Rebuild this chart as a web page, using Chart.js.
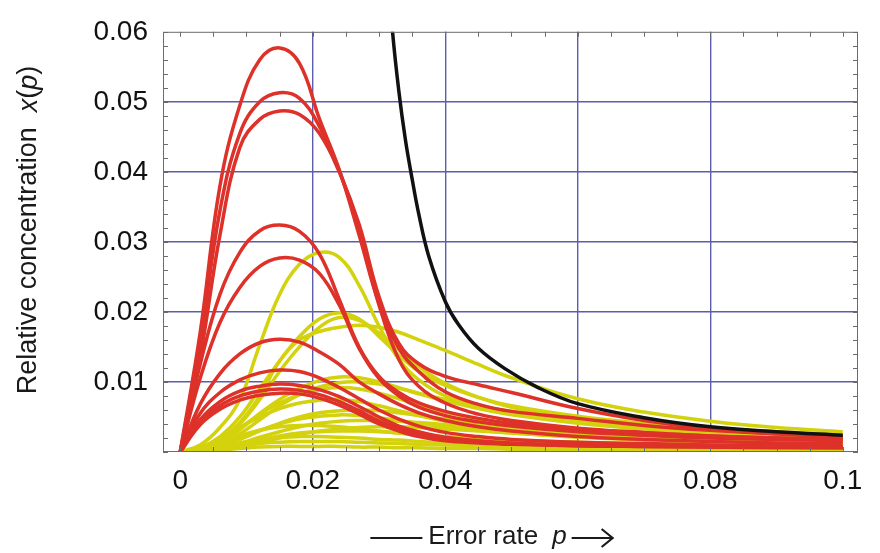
<!DOCTYPE html>
<html lang="en">
<head>
<meta charset="UTF-8">
<title>Relative concentration vs error rate</title>
<style>
  html, body { margin: 0; padding: 0; background: #fff; }
  #wrap { width: 880px; height: 553px; }
</style>
<script src="https://cdn.jsdelivr.net/npm/chart.js"></script>
</head>
<body>
<div id="wrap"><canvas id="grafico" width="880" height="553"></canvas></div>
<script>
// error rate p shared by the red and yellow curves
const P = [0, 0.003, 0.006, 0.009, 0.012, 0.015, 0.018, 0.021, 0.024, 0.027, 0.030,
           0.033, 0.036, 0.040, 0.045, 0.050, 0.060, 0.070, 0.080, 0.090, 0.100];

// red curves x(p)
const RED = [
  [0, .0170, .0380, .0495, .0560, .0577, .0555, .0476, .0403, .0310, .0212, .0148, .0115, .0086, .0068, .0058, .0048, .0038, .0031, .0026, .0022],
  [0, .0155, .0345, .0455, .0500, .0513, .0505, .0465, .0402, .0318, .0210, .0132, .0094, .0070, .0054, .0045, .0034, .0028, .0023, .0020, .0018],
  [0, .0135, .0310, .0435, .0475, .0487, .0482, .0455, .0400, .0325, .0222, .0155, .0126, .0108, .0096, .0085, .0062, .0045, .0033, .0026, .0021],
  [0, .0125, .0225, .0285, .0316, .0324, .0315, .0283, .0218, .0150, .0108, .0085, .0070, .0058, .0048, .0041, .0033, .0027, .0023, .0020, .0018],
  [0, .0105, .0185, .0235, .0265, .0277, .0274, .0255, .0210, .0148, .0105, .0080, .0064, .0052, .0043, .0037, .0029, .0024, .0020, .0018, .0016],
  [0, .0068, .0112, .0140, .0156, .0161, .0157, .0143, .0125, .0100, .0083, .0068, .0056, .0045, .0036, .0030, .0022, .0018, .0015, .0013, .0012],
  [0, .0055, .0085, .0103, .0113, .0117, .0115, .0106, .0092, .0076, .0060, .0047, .0037, .0028, .0022, .0018, .0014, .0012, .0010, .0009, .0008],
  [0, .0046, .0072, .0087, .0094, .0097, .0095, .0089, .0079, .0065, .0050, .0037, .0029, .0021, .0016, .0013, .0010, .0009, .0008, .0007, .0007],
  [0, .0042, .0066, .0080, .0087, .0090, .0088, .0082, .0072, .0059, .0044, .0033, .0025, .0018, .0014, .0012, .0009, .0008, .0007, .0007, .0006],
  [0, .0039, .0061, .0074, .0081, .0084, .0083, .0077, .0067, .0054, .0040, .0030, .0022, .0016, .0013, .0011, .0009, .0008, .0007, .0006, .0006]
];

// yellow curves x(p)
const YELLOW = [
  [0, .0010, .0035, .0075, .0153, .0225, .0268, .0285, .0278, .0238, .0180, .0132, .0103, .0080, .0066, .0057, .0046, .0038, .0032, .0027, .0024],
  [0, .0006, .0022, .0050, .0090, .0130, .0165, .0190, .0199, .0190, .0165, .0138, .0115, .0095, .0078, .0066, .0051, .0041, .0034, .0029, .0025],
  [0, .0004, .0016, .0040, .0075, .0115, .0150, .0178, .0192, .0188, .0170, .0146, .0122, .0098, .0078, .0064, .0046, .0036, .0029, .0024, .0021],
  [0, .0005, .0018, .0042, .0080, .0130, .0160, .0172, .0178, .0181, .0178, .0171, .0160, .0145, .0125, .0106, .0076, .0057, .0044, .0035, .0029],
  [0, .0004, .0014, .0032, .0055, .0075, .0091, .0102, .0107, .0106, .0100, .0092, .0083, .0073, .0062, .0053, .0041, .0033, .0027, .0023, .0020],
  [0, .0003, .0011, .0026, .0046, .0066, .0082, .0093, .0099, .0100, .0097, .0091, .0084, .0075, .0066, .0058, .0046, .0037, .0031, .0027, .0024],
  [0, .0005, .0016, .0034, .0054, .0070, .0082, .0089, .0092, .0090, .0084, .0076, .0067, .0057, .0047, .0040, .0030, .0024, .0020, .0017, .0015],
  [0, .0006, .0018, .0035, .0050, .0062, .0070, .0074, .0075, .0072, .0066, .0059, .0052, .0044, .0037, .0031, .0024, .0019, .0016, .0014, .0012],
  [0, .0002, .0008, .0018, .0030, .0041, .0050, .0056, .0059, .0060, .0059, .0056, .0052, .0047, .0041, .0036, .0029, .0024, .0020, .0018, .0016],
  [0, .0003, .0010, .0020, .0031, .0040, .0047, .0051, .0053, .0052, .0049, .0045, .0041, .0036, .0031, .0027, .0021, .0017, .0014, .0012, .0011],
  [0, .0001, .0005, .0012, .0021, .0029, .0036, .0041, .0044, .0045, .0045, .0044, .0042, .0039, .0035, .0031, .0025, .0021, .0018, .0016, .0014],
  [0, .0004, .0013, .0023, .0031, .0036, .0038, .0038, .0036, .0033, .0030, .0027, .0024, .0020, .0017, .0015, .0012, .0010, .0009, .0008, .0007],
  [0, .0001, .0004, .0010, .0017, .0023, .0027, .0029, .0030, .0030, .0029, .0027, .0025, .0022, .0019, .0017, .0014, .0012, .0010, .0009, .0008],
  [0, .0002, .0007, .0013, .0018, .0021, .0022, .0022, .0021, .0020, .0018, .0017, .0015, .0013, .0011, .0010, .0008, .0007, .0006, .0005, .0005],
  [0, .0001, .0004, .0008, .0012, .0014, .0015, .0015, .0015, .0014, .0013, .0012, .0011, .0010, .0009, .0008, .0006, .0005, .0005, .0004, .0004],
  [0, .0001, .0003, .0005, .0007, .0008, .0008, .0008, .0008, .0007, .0007, .0006, .0006, .0005, .0005, .0004, .0004, .0003, .0003, .0003, .0003],
  [0, .0001, .0003, .0008, .0014, .0020, .0025, .0030, .0033, .0035, .0036, .0036, .0035, .0033, .0030, .0027, .0022, .0018, .0015, .0013, .0012]
];

// black curve, leaves the top of the plot near p = 0.032
const BLACK_P = [0.0315, 0.032, 0.033, 0.034, 0.035, 0.036, 0.0375, 0.040, 0.042, 0.045, 0.049, 0.054, 0.060, 0.070, 0.080, 0.090, 0.100];
const BLACK_X = [0.068, 0.0605, 0.0515, 0.0445, 0.0390, 0.0340, 0.0280, 0.0215, 0.0182, 0.0148, 0.0119, 0.0092, 0.0069, 0.0049, 0.0036, 0.0029, 0.0024];

const X_TICKS = [0, 0.02, 0.04, 0.06, 0.08, 0.1];
const Y_TICKS = [0.01, 0.02, 0.03, 0.04, 0.05, 0.06];

const FONT = "'Liberation Sans', Arial, Helvetica, sans-serif";
const GRID = '#5c5cac';

function serie(xs, ys, color) {
  return {
    data: ys.map((v, i) => ({ x: xs[i], y: v })),
    borderColor: color,
    borderWidth: 3.5,
    pointRadius: 0,
    tension: 0.4,
    fill: false
  };
}

// first dataset is painted last: black on top, then red, then yellow
const datasets = [serie(BLACK_P, BLACK_X, '#111111')]
  .concat(RED.map(c => serie(P, c, '#dd3129')))
  .concat(YELLOW.map(c => serie(P, c, '#d3d20d')));

function texto(ctx, piezas, x, y, size) {
  // draws upright/italic pieces one after the other, centred on x
  const anchos = piezas.map(([t, it]) => {
    ctx.font = (it ? 'italic ' : '') + size + 'px ' + FONT;
    return ctx.measureText(t).width;
  });
  let cx = x - anchos.reduce((a, b) => a + b, 0) / 2;
  piezas.forEach(([t, it], i) => {
    ctx.font = (it ? 'italic ' : '') + size + 'px ' + FONT;
    ctx.fillText(t, cx, y);
    cx += anchos[i];
  });
}

// frame, small inner ticks and the two axis titles
const marco = {
  id: 'marco',
  afterDraw(chart) {
    const { ctx, chartArea: a, scales: { x, y } } = chart;
    ctx.save();
    ctx.strokeStyle = '#6c6c6c';
    ctx.lineWidth = 1;
    ctx.strokeRect(a.left + 0.5, a.top + 0.5, a.right - a.left - 1, a.bottom - a.top - 1);
    ctx.beginPath();
    for (let v = 0; v <= 0.1001; v += 0.005) {
      const px = Math.round(x.getPixelForValue(v)) + 0.5;
      ctx.moveTo(px, a.bottom); ctx.lineTo(px, a.bottom - 5);
      ctx.moveTo(px, a.top); ctx.lineTo(px, a.top + 5);
    }
    for (let v = 0; v <= 0.0601; v += 0.002) {
      const py = Math.round(y.getPixelForValue(v)) + 0.5;
      ctx.moveTo(a.left, py); ctx.lineTo(a.left + 5, py);
      ctx.moveTo(a.right, py); ctx.lineTo(a.right - 5, py);
    }
    ctx.stroke();

    ctx.fillStyle = '#1a1a1a';
    ctx.textBaseline = 'middle';
    ctx.textAlign = 'left';

    // y title
    ctx.save();
    ctx.translate(29, 230);
    ctx.rotate(-Math.PI / 2);
    texto(ctx, [['Relative concentration  ', false], ['x', true], ['(', false], ['p', true], [')', false]], 0, 0, 27);
    ctx.restore();

    // x title with the leading bar and the trailing arrow
    const ty = 537;
    ctx.font = '26px ' + FONT;
    const wE = ctx.measureText('Error rate').width;
    ctx.font = 'italic 26px ' + FONT;
    const wP = ctx.measureText('p').width;
    const total = 52 + 6 + wE + 14 + wP + 5 + 42;
    let cx = 492 - total / 2;
    ctx.strokeStyle = '#1a1a1a';
    ctx.lineWidth = 2.2;
    ctx.beginPath();
    ctx.moveTo(cx, ty + 1); ctx.lineTo(cx + 52, ty + 1);
    ctx.stroke();
    cx += 58;
    ctx.font = '26px ' + FONT;
    ctx.fillText('Error rate', cx, ty);
    cx += wE + 14;
    ctx.font = 'italic 26px ' + FONT;
    ctx.fillText('p', cx, ty);
    cx += wP + 5;
    ctx.beginPath();
    ctx.moveTo(cx, ty + 1); ctx.lineTo(cx + 40, ty + 1);
    ctx.moveTo(cx + 30, ty - 8); ctx.lineTo(cx + 41, ty + 1); ctx.lineTo(cx + 30, ty + 10);
    ctx.stroke();
    ctx.restore();
  }
};

new Chart(document.getElementById('grafico'), {
  type: 'line',
  data: { datasets: datasets },
  options: {
    responsive: false,
    animation: false,
    devicePixelRatio: 1,
    layout: { padding: { top: 21, right: 22, left: 0, bottom: 0 } },
    plugins: { legend: { display: false }, tooltip: { enabled: false } },
    scales: {
      x: {
        type: 'linear',
        min: -0.0026,
        max: 0.1023,
        afterBuildTicks: s => { s.ticks = X_TICKS.map(v => ({ value: v })); },
        afterFit: s => { s.height = 101; },
        grid: {
          color: c => (c.tick && c.tick.value > 0 && c.tick.value < 0.1) ? GRID : 'rgba(0,0,0,0)',
          lineWidth: 1.4,
          drawTicks: false
        },
        border: { display: false },
        ticks: {
          font: { family: FONT, size: 28 },
          color: '#111',
          padding: 12,
          maxRotation: 0,
          autoSkip: false,
          callback: v => String(v)
        }
      },
      y: {
        type: 'linear',
        min: 0,
        max: 0.06,
        afterBuildTicks: s => { s.ticks = Y_TICKS.map(v => ({ value: v })); },
        afterFit: s => { s.width = 163; },
        grid: {
          color: c => (c.tick && c.tick.value < 0.06) ? GRID : 'rgba(0,0,0,0)',
          lineWidth: 1.4,
          drawTicks: false
        },
        border: { display: false },
        ticks: {
          font: { family: FONT, size: 28 },
          color: '#111',
          padding: 15,
          autoSkip: false,
          callback: v => String(v)
        }
      }
    }
  },
  plugins: [marco]
});
</script>
</body>
</html>
